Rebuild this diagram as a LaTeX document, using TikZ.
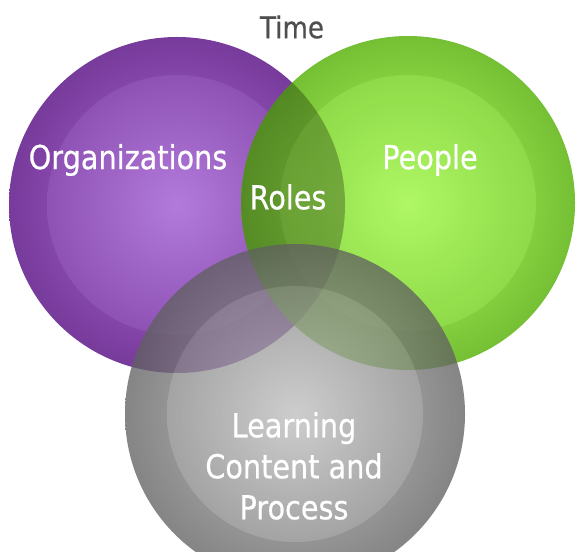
\documentclass[tikz,border=0pt]{standalone}
\usepackage{fontspec}
\setmainfont{DejaVu Sans}[FakeStretch=0.87, FakeBold=0.5]
\usetikzlibrary{backgrounds}
\definecolor{orgedge}{HTML}{773B9B}
\definecolor{orgring}{HTML}{8748AD}
\definecolor{orgmid}{HTML}{8E52B4}
\definecolor{orglight}{HTML}{B27BDB}
\definecolor{ppledge}{HTML}{66B81E}
\definecolor{pplring}{HTML}{78CC2C}
\definecolor{pplmid}{HTML}{82D634}
\definecolor{ppllight}{HTML}{A6F654}
\definecolor{lcpedge}{HTML}{606060}
\definecolor{lcpring}{HTML}{767676}
\definecolor{lcpmid}{HTML}{888888}
\definecolor{lcplight}{HTML}{BEBEBE}
\definecolor{timegray}{HTML}{4E4E50}

\pgfdeclareradialshading{orgouter}{\pgfpointorigin}{color(0bp)=(orgring); color(18bp)=(orgring); color(25bp)=(orgedge); color(50bp)=(orgedge)}
\pgfdeclareradialshading{pplouter}{\pgfpointorigin}{color(0bp)=(pplring); color(18bp)=(pplring); color(25bp)=(ppledge); color(50bp)=(ppledge)}
\pgfdeclareradialshading{lcpouter}{\pgfpointorigin}{color(0bp)=(lcpring); color(18bp)=(lcpring); color(25bp)=(lcpedge); color(50bp)=(lcpedge)}

\begin{document}
\begin{tikzpicture}[x=1pt, y=1pt,
    venn/.style={circle, minimum size=#1, inner sep=0pt},
    vlabel/.style={text=white, font=\fontsize{33}{41}\selectfont, align=center}]
      \useasboundingbox (0,0) rectangle (577,551);
      \clip (0,0) rectangle (577,551);

      % Organizations (purple)
      \node[venn=336pt, shade, shading=orgouter] (org) at (177,346) {};
      \shade[inner color=orglight, outer color=orgmid] (org.center) circle (130);

      % People (green), see-through over purple
      \begin{scope}[transparency group, opacity=0.9]
        \node[venn=334pt, shade, shading=pplouter] (ppl) at (408,348) {};
        \shade[inner color=ppllight, outer color=pplmid] (ppl.center) circle (128);
      \end{scope}

      % darker lens where the two meet
      \begin{scope}
        \clip (org.center) circle (168);
        \fill[black, opacity=0.2] (ppl.center) circle (167);
      \end{scope}

      % Learning content and process (gray)
      \begin{scope}[transparency group, opacity=0.77]
        \node[venn=340pt, shade, shading=lcpouter] (lcp) at (295,137) {};
        \shade[inner color=lcplight, outer color=lcpmid] (lcp.center) circle (128);
      \end{scope}

      % Labels
      \node[text=timegray, font=\fontsize{30}{36}\selectfont] (time) at (292,524) {Time};
      \node[vlabel] (orglabel) at (128,391) {Organizations};
      \node[vlabel] (ppllabel) at (430,391) {People};
      \node[vlabel] (roles) at (288,354) {Roles};
      \node[vlabel] (lcplabel) at (294,85) {Learning\\Content and\\Process};
\end{tikzpicture}
\end{document}
